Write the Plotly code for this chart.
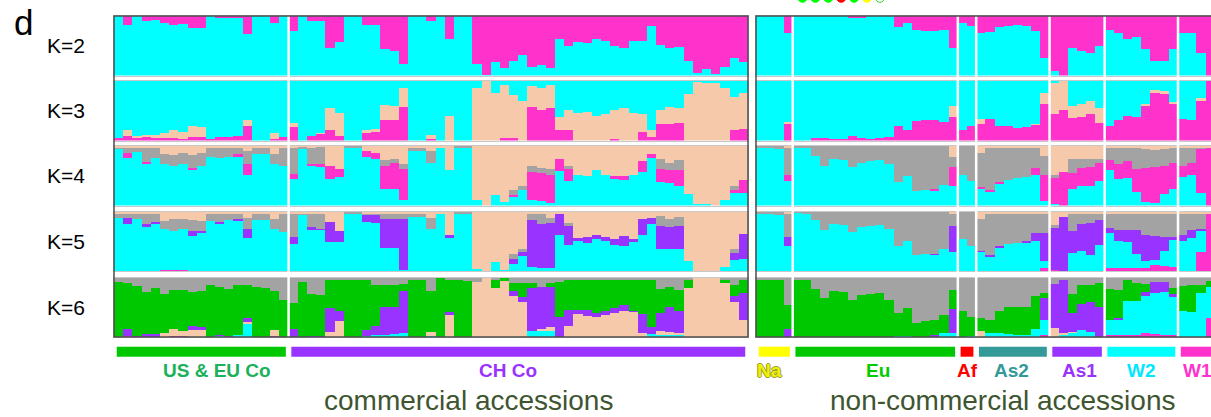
import plotly.graph_objects as go

W, H = 1211, 417
FONT = "Liberation Sans, Arial, sans-serif"

# ---------------------------------------------------------------- palette
COLORS = {
    "cyan": "#00FFFF",
    "magenta": "#FF33CC",
    "peach": "#F7C9AB",
    "gray": "#A3A3A3",
    "purple": "#9933FF",
    "green": "#00C800",
}

K_LABELS = ["K=2", "K=3", "K=4", "K=5", "K=6"]
# cluster order inside every tuple below, from the top of a bar to its bottom
K_ORDERS = [
    ["magenta", "cyan"],
    ["cyan", "peach", "magenta"],
    ["peach", "gray", "magenta", "cyan"],
    ["peach", "gray", "purple", "cyan", "magenta"],
    ["gray", "green", "purple", "peach", "cyan", "magenta"],
]

# ---------------------------------------------------------------- groups
COM_GROUPS = ["US & EU Co", "CH Co"]
COM_SIZES = [19, 50]
COM_BAR_COLORS = ["#00C800", "#9933FF"]
COM_TEXT_COLORS = ["#1BB15A", "#9933FF"]

NON_GROUPS = ["Na", "Eu", "Af", "As2", "As1", "W2", "W1"]
NON_SIZES = [4, 18, 2, 8, 6, 8, 4]
NON_BAR_COLORS = ["#FFFF00", "#00C800", "#FF0000", "#339999", "#9933FF", "#00FFFF", "#FF33CC"]
NON_TEXT_COLORS = ["#F2F200", "#00CC00", "#FF0000", "#339999", "#9933FF", "#00E8FF", "#FF33CC"]

PANEL_TITLES = ["commercial accessions", "non-commercial accessions"]

# ---------------------------------------------------------------- ancestry proportions (%)
K2_COM = [
    (0, 100), (15, 85), (0, 100), (8, 92), (7, 93), (12, 88), (15, 85), (13, 87), (21, 79), (21, 79),
    (0, 100), (4, 96), (3, 97), (2, 98), (31, 69), (0, 100), (0, 100), (12, 88), (0, 100),
    (25, 75), (0, 100), (8, 92), (8, 92), (54, 46), (44, 56), (0, 100), (0, 100), (15, 85), (15, 85),
    (56, 44), (58, 42), (81, 19), (0, 100), (0, 100), (8, 92), (0, 100), (39, 61), (0, 100), (0, 100),
    (80, 20), (99, 1), (77, 23), (88, 12), (75, 25), (65, 35), (86, 14), (83, 17), (88, 12), (38, 62),
    (50, 50), (44, 56), (46, 54), (38, 62), (42, 58), (50, 50), (54, 46), (42, 58), (42, 58), (17, 83),
    (48, 52), (54, 46), (52, 48), (75, 25), (96, 4), (89, 11), (98, 2), (86, 14), (71, 29), (77, 23),
]
K2_NON = [
    (0, 100), (0, 100), (0, 100), (28, 72),
    (0, 100), (0, 100), (0, 100), (0, 100), (0, 100), (0, 100), (2, 98), (2, 98), (0, 100), (0, 100),
    (0, 100), (18, 82), (11, 89), (23, 77), (25, 75), (25, 75), (23, 77), (53, 47),
    (12, 88), (17, 83),
    (29, 71), (27, 73), (18, 82), (16, 84), (15, 85), (16, 84), (25, 75), (71, 29),
    (93, 7), (100, 0), (53, 47), (58, 42), (62, 38), (51, 49),
    (24, 76), (29, 71), (38, 62), (36, 64), (56, 44), (75, 25), (75, 25), (56, 44),
    (29, 71), (29, 71), (63, 37), (100, 0),
]

K3_COM = [
    (96, 0, 4), (83, 9, 8), (92, 4, 4), (90, 3, 7), (90, 5, 5), (87, 8, 5), (83, 12, 5), (86, 11, 3),
    (76, 18, 6), (77, 17, 6), (97, 0, 3), (94, 0, 6), (94, 0, 6), (93, 0, 7), (66, 9, 25), (100, 0, 0),
    (100, 0, 0), (87, 10, 3), (94, 0, 6),
    (71, 7, 22), (100, 0, 0), (92, 0, 8), (87, 2, 11), (45, 38, 17), (54, 38, 8), (100, 0, 0), (100, 0, 0),
    (83, 3, 14), (81, 4, 15),
    (41, 25, 34), (42, 24, 34), (12, 32, 56), (100, 0, 0), (100, 0, 0), (90, 7, 3), (100, 0, 0), (58, 42, 0),
    (100, 0, 0), (100, 0, 0),
    (11, 89, 0), (0, 100, 0), (21, 79, 0), (7, 89, 4), (24, 72, 4), (33, 67, 0), (8, 35, 57), (11, 38, 51),
    (7, 39, 54), (60, 22, 18),
    (48, 34, 18), (54, 46, 0), (52, 48, 0), (59, 41, 0), (55, 45, 0), (48, 49, 3), (45, 55, 0), (54, 46, 0),
    (55, 31, 14), (82, 12, 6),
    (49, 23, 28), (44, 29, 27), (45, 25, 30), (22, 78, 0), (1, 99, 0), (4, 96, 0), (2, 98, 0), (11, 89, 0),
    (27, 55, 18), (21, 59, 20),
]
K3_NON = [
    (100, 0, 0), (100, 0, 0), (100, 0, 0), (69, 3, 28),
    (100, 0, 0), (100, 0, 0), (95, 0, 5), (96, 0, 4), (97, 0, 3), (98, 0, 2), (92, 0, 8), (95, 0, 5),
    (97, 0, 3), (95, 0, 5), (94, 0, 6), (75, 0, 25), (82, 0, 18), (68, 0, 32), (66, 0, 34), (66, 0, 34),
    (69, 0, 31), (42, 18, 40),
    (82, 0, 18), (75, 0, 25),
    (64, 9, 27), (64, 0, 36), (75, 0, 25), (76, 0, 24), (79, 0, 21), (77, 0, 23), (72, 1, 27), (21, 17, 62),
    (2, 53, 45), (0, 49, 51), (42, 21, 37), (39, 21, 40), (33, 23, 44), (46, 24, 30),
    (75, 0, 25), (66, 0, 34), (58, 0, 42), (60, 0, 40), (38, 3, 59), (15, 6, 79), (16, 6, 78), (35, 3, 62),
    (64, 0, 36), (66, 0, 34), (29, 4, 67), (0, 0, 100),
]

K4_COM = [
    (2, 2, 0, 96), (2, 10, 8, 80), (4, 6, 0, 90), (3, 24, 3, 70), (4, 17, 0, 79), (13, 18, 0, 69),
    (15, 18, 0, 67), (12, 18, 0, 70), (15, 22, 4, 59), (12, 21, 0, 67), (2, 16, 0, 82), (2, 19, 0, 79),
    (2, 16, 0, 82), (2, 12, 3, 83), (9, 22, 17, 52), (2, 11, 0, 87), (2, 11, 0, 87), (13, 18, 0, 69),
    (2, 32, 0, 66),
    (2, 45, 9, 44), (1, 3, 0, 96), (2, 28, 2, 68), (1, 30, 3, 66), (33, 0, 22, 45), (39, 0, 13, 48),
    (0, 2, 0, 98), (0, 2, 0, 98), (9, 0, 10, 81), (11, 0, 11, 78),
    (24, 9, 39, 28), (21, 8, 43, 28), (30, 9, 51, 10), (2, 6, 0, 92), (2, 6, 0, 92), (8, 20, 0, 72),
    (2, 0, 0, 98), (41, 0, 0, 59), (0, 3, 0, 97), (0, 4, 0, 96),
    (91, 0, 0, 9), (100, 0, 0, 0), (82, 0, 0, 18), (94, 0, 0, 6), (74, 9, 2, 15), (67, 7, 0, 26),
    (33, 10, 48, 9), (37, 9, 46, 8), (39, 9, 48, 4), (21, 0, 21, 58),
    (33, 6, 19, 42), (48, 0, 0, 52), (50, 0, 0, 50), (41, 0, 0, 59), (48, 0, 0, 52), (51, 0, 3, 46),
    (50, 0, 7, 43), (48, 0, 0, 52), (26, 0, 18, 56), (14, 0, 7, 79),
    (22, 17, 22, 39), (29, 11, 23, 37), (24, 17, 26, 33), (81, 0, 0, 19), (98, 0, 0, 2), (97, 0, 0, 3),
    (100, 0, 0, 0), (91, 0, 0, 9), (67, 7, 5, 21), (57, 0, 22, 21),
]
K4_NON = [
    (0, 2, 0, 98), (0, 2, 0, 98), (0, 5, 0, 95), (4, 44, 11, 41),
    (0, 2, 0, 98), (0, 2, 0, 98), (0, 16, 0, 84), (0, 33, 0, 67), (0, 22, 0, 78), (0, 23, 0, 77),
    (0, 36, 0, 64), (0, 28, 0, 72), (0, 26, 0, 74), (0, 23, 0, 77), (0, 31, 0, 69), (0, 60, 0, 40),
    (0, 51, 0, 49), (0, 76, 0, 24), (0, 74, 0, 26), (0, 73, 1, 26), (0, 66, 0, 34), (18, 18, 32, 32),
    (0, 49, 0, 51), (0, 59, 0, 41),
    (12, 57, 3, 28), (2, 72, 2, 24), (2, 59, 2, 37), (2, 55, 0, 43), (2, 51, 0, 47), (2, 50, 0, 48),
    (4, 33, 11, 52), (17, 32, 43, 8),
    (48, 6, 44, 2), (43, 0, 57, 0), (22, 23, 27, 28), (22, 15, 30, 33), (22, 13, 32, 33), (22, 7, 29, 42),
    (2, 22, 17, 59), (2, 29, 24, 45), (2, 24, 28, 46), (2, 36, 39, 23), (5, 32, 57, 6), (7, 28, 60, 5),
    (5, 28, 47, 20), (2, 26, 45, 27),
    (2, 31, 19, 48), (2, 26, 21, 51), (2, 2, 75, 21), (4, 0, 96, 0),
]

K5_COM = [
    (3, 7, 0, 90, 0), (2, 8, 11, 79, 0), (3, 8, 0, 89, 0), (2, 18, 6, 74, 0), (3, 14, 4, 79, 0),
    (15, 14, 0, 68, 3), (12, 20, 0, 65, 3), (11, 18, 0, 68, 3), (14, 18, 8, 60, 0), (15, 17, 3, 65, 0),
    (2, 13, 0, 85, 0), (2, 15, 2, 81, 0), (2, 12, 0, 86, 0), (2, 10, 2, 86, 0), (10, 18, 16, 56, 0),
    (2, 12, 0, 86, 0), (2, 11, 0, 87, 0), (12, 17, 0, 71, 0), (2, 31, 0, 67, 0),
    (2, 40, 11, 47, 0), (2, 2, 0, 96, 0), (2, 24, 3, 71, 0), (2, 26, 2, 70, 0), (16, 0, 35, 49, 0),
    (32, 0, 18, 50, 0), (0, 2, 0, 98, 0), (0, 2, 0, 98, 0), (2, 2, 13, 83, 0), (2, 2, 15, 81, 0),
    (3, 8, 50, 39, 0), (3, 8, 50, 39, 0), (2, 10, 86, 2, 0), (2, 6, 0, 92, 0), (2, 6, 0, 92, 0),
    (10, 18, 0, 72, 0), (2, 0, 0, 98, 0), (38, 0, 6, 56, 0), (0, 3, 0, 97, 0), (0, 4, 0, 96, 0),
    (95, 0, 0, 5, 0), (100, 0, 0, 0, 0), (84, 0, 0, 16, 0), (97, 0, 0, 3, 0), (71, 8, 9, 12, 0),
    (63, 4, 7, 26, 0), (3, 10, 79, 8, 0), (3, 17, 74, 6, 0), (10, 9, 75, 6, 0), (2, 0, 36, 62, 0),
    (18, 6, 31, 45, 0), (43, 0, 6, 51, 0), (42, 0, 10, 48, 0), (38, 0, 7, 55, 0), (42, 0, 7, 51, 0),
    (45, 0, 10, 45, 0), (41, 0, 16, 43, 0), (46, 0, 3, 51, 0), (12, 0, 27, 61, 0), (10, 0, 11, 79, 0),
    (7, 17, 38, 38, 0), (11, 14, 37, 38, 0), (8, 16, 38, 38, 0), (83, 0, 0, 17, 0), (100, 0, 0, 0, 0),
    (100, 0, 0, 0, 0), (100, 0, 0, 0, 0), (93, 0, 0, 7, 0), (63, 6, 11, 20, 0), (37, 0, 42, 21, 0),
]
K5_NON = [
    (0, 2, 0, 98, 0), (0, 2, 0, 98, 0), (0, 5, 0, 95, 0), (2, 40, 15, 43, 0),
    (0, 1, 0, 99, 0), (0, 2, 0, 98, 0), (0, 13, 0, 87, 0), (0, 30, 0, 70, 0), (0, 21, 0, 79, 0),
    (0, 22, 0, 78, 0), (0, 33, 0, 67, 0), (0, 26, 0, 74, 0), (0, 24, 0, 76, 0), (0, 22, 0, 78, 0),
    (0, 29, 0, 71, 0), (0, 57, 0, 43, 0), (0, 48, 0, 52, 0), (0, 73, 0, 27, 0), (0, 71, 0, 29, 0),
    (0, 70, 1, 29, 0), (0, 63, 0, 37, 0), (2, 21, 44, 33, 0),
    (0, 46, 0, 54, 0), (0, 57, 0, 43, 0),
    (11, 54, 2, 33, 0), (2, 70, 3, 25, 0), (2, 55, 2, 41, 0), (2, 52, 0, 46, 0), (2, 50, 0, 48, 0),
    (2, 47, 3, 48, 0), (2, 34, 12, 52, 0), (2, 33, 47, 12, 6),
    (22, 5, 70, 0, 3), (9, 0, 91, 0, 0), (4, 28, 37, 31, 0), (3, 17, 46, 34, 0), (3, 16, 54, 27, 0),
    (3, 10, 43, 44, 0),
    (2, 25, 9, 58, 6), (2, 29, 17, 46, 6), (2, 28, 21, 43, 6), (2, 28, 41, 23, 6), (2, 36, 44, 12, 6),
    (2, 38, 41, 8, 11), (2, 40, 24, 24, 10), (2, 40, 5, 45, 8),
    (2, 36, 11, 51, 0), (2, 28, 14, 56, 0), (2, 26, 4, 35, 33), (2, 0, 0, 0, 98),
]

K6_COM = [
    (6, 94, 0, 0, 0, 0), (8, 78, 11, 0, 0, 3), (14, 84, 2, 0, 0, 0), (24, 70, 6, 0, 0, 0),
    (16, 78, 6, 0, 0, 0), (27, 66, 0, 6, 0, 1), (21, 65, 0, 11, 0, 3), (21, 68, 0, 9, 0, 2),
    (24, 56, 8, 12, 0, 0), (22, 60, 6, 12, 0, 0), (11, 88, 1, 0, 0, 0), (15, 80, 2, 0, 3, 0),
    (18, 80, 2, 0, 0, 0), (12, 84, 0, 0, 4, 0), (12, 55, 7, 2, 24, 0), (15, 84, 1, 0, 0, 0),
    (16, 84, 0, 0, 0, 0), (22, 66, 0, 10, 0, 2), (37, 63, 0, 0, 0, 0),
    (42, 44, 13, 0, 0, 1), (7, 93, 0, 0, 0, 0), (27, 71, 2, 0, 0, 0), (29, 69, 2, 0, 0, 0),
    (2, 49, 40, 9, 0, 0), (2, 53, 17, 28, 0, 0), (2, 98, 0, 0, 0, 0), (4, 96, 0, 0, 0, 0),
    (4, 83, 11, 0, 2, 0), (11, 69, 15, 0, 5, 0),
    (11, 38, 47, 0, 4, 0), (11, 38, 45, 0, 6, 0), (10, 12, 70, 0, 8, 0), (4, 96, 0, 0, 0, 0),
    (2, 98, 0, 0, 0, 0), (21, 70, 0, 7, 2, 0), (0, 100, 0, 0, 0, 0), (2, 55, 6, 37, 0, 0),
    (2, 98, 0, 0, 0, 0), (5, 95, 0, 0, 0, 0),
    (7, 0, 0, 93, 0, 0), (0, 0, 0, 100, 0, 0), (2, 14, 0, 84, 0, 0), (0, 5, 0, 95, 0, 0),
    (8, 14, 9, 69, 0, 0), (8, 24, 8, 60, 0, 0), (8, 8, 73, 0, 11, 0), (15, 0, 71, 3, 11, 0),
    (8, 7, 67, 7, 11, 0), (7, 58, 35, 0, 0, 0),
    (2, 51, 28, 19, 0, 0), (2, 51, 8, 39, 0, 0), (2, 51, 11, 36, 0, 0), (2, 57, 7, 34, 0, 0),
    (2, 54, 6, 38, 0, 0), (2, 49, 8, 41, 0, 0), (2, 43, 11, 44, 0, 0), (2, 53, 2, 43, 0, 0),
    (2, 58, 32, 8, 0, 0), (2, 81, 11, 0, 6, 0),
    (18, 40, 31, 7, 4, 0), (15, 34, 41, 6, 4, 0), (20, 36, 37, 2, 5, 0), (2, 15, 0, 83, 0, 0),
    (0, 0, 0, 100, 0, 0), (0, 0, 0, 100, 0, 0), (0, 0, 0, 100, 0, 0), (2, 6, 0, 92, 0, 0),
    (11, 19, 11, 59, 0, 0), (3, 22, 45, 30, 0, 0),
]
K6_NON = [
    (2, 98, 0, 0, 0, 0), (2, 98, 0, 0, 0, 0), (4, 96, 0, 0, 0, 0), (45, 40, 15, 0, 0, 0),
    (2, 98, 0, 0, 0, 0), (4, 96, 0, 0, 0, 0), (18, 82, 0, 0, 0, 0), (33, 67, 0, 0, 0, 0),
    (22, 78, 0, 0, 0, 0), (24, 76, 0, 0, 0, 0), (37, 63, 0, 0, 0, 0), (28, 72, 0, 0, 0, 0),
    (27, 73, 0, 0, 0, 0), (25, 75, 0, 0, 0, 0), (37, 63, 0, 0, 0, 0), (59, 39, 0, 0, 2, 0),
    (50, 48, 0, 0, 2, 0), (76, 24, 0, 0, 0, 0), (73, 27, 0, 0, 0, 0), (71, 25, 2, 0, 2, 0),
    (63, 30, 0, 0, 7, 0), (20, 32, 40, 0, 8, 0),
    (55, 45, 0, 0, 0, 0), (66, 32, 0, 0, 2, 0),
    (67, 22, 0, 10, 1, 0), (71, 21, 0, 0, 8, 0), (56, 37, 0, 0, 7, 0), (49, 45, 0, 0, 6, 0),
    (49, 46, 0, 0, 5, 0), (48, 47, 0, 0, 5, 0), (31, 55, 0, 0, 14, 0), (25, 8, 38, 0, 25, 4),
    (10, 0, 74, 16, 0, 0), (2, 0, 90, 3, 5, 0), (27, 31, 32, 2, 8, 0), (11, 33, 44, 0, 12, 0),
    (11, 30, 49, 0, 10, 0), (8, 41, 51, 0, 0, 0),
    (18, 53, 0, 0, 25, 4), (21, 46, 3, 0, 26, 4), (2, 37, 0, 0, 57, 4), (8, 31, 0, 0, 57, 4),
    (10, 14, 7, 0, 62, 7), (7, 0, 19, 0, 68, 6), (7, 0, 17, 0, 72, 4), (16, 11, 5, 0, 64, 4),
    (14, 41, 0, 0, 45, 0), (12, 45, 0, 0, 43, 0), (12, 13, 0, 0, 75, 0), (5, 10, 0, 0, 52, 33),
]

COM_DATA = [K2_COM, K3_COM, K4_COM, K5_COM, K6_COM]
NON_DATA = [K2_NON, K3_NON, K4_NON, K5_NON, K6_NON]

# small coloured dots above the non-commercial panel
DOT_COLORS = ["#00FF00", "#00FF00", "#00FF00", "#FF0000", "#00FF00", "#FFFF00", "#FFFFFF"]
DOT_LINES = ["#00FF00", "#00FF00", "#00FF00", "#FF0000", "#00FF00", "#FFFF00", "#33CC33"]

for rows, sizes in ((COM_DATA, COM_SIZES), (NON_DATA, NON_SIZES)):
    for k, row in enumerate(rows):
        assert len(row) == sum(sizes), (k, len(row))
        assert all(len(t) == len(K_ORDERS[k]) for t in row), k

# ---------------------------------------------------------------- geometry (pixels)
ROW_TOPS = [16, 81, 146, 211.5, 277.5]
ROW_H = 59.5
FRAME_TOP, FRAME_BOTTOM = 16, 337
COM_LEFT, COM_RIGHT = 114, 748
NON_LEFT = 756
NON_BAR_PX = 9.174
NON_VISIBLE = (W - NON_LEFT) / NON_BAR_PX

# horizontal centres of the group names, in bar-index units of each panel
COM_LABEL_X = [10.7, 42.4]
NON_LABEL_X = [1.0, 12.8, 22.5, 27.3, 34.8, 41.5, 47.6]


def fx(p):
    return p / W


def fy(p):
    return 1 - p / H


fig = go.Figure()
layout = dict(
    width=W, height=H, margin=dict(l=0, r=0, t=0, b=0),
    paper_bgcolor="white", plot_bgcolor="white",
    barmode="stack", bargap=0, showlegend=False,
)

panels = [
    (COM_DATA, COM_SIZES, (fx(COM_LEFT), fx(COM_RIGHT)), [-0.5, sum(COM_SIZES) - 0.5]),
    (NON_DATA, NON_SIZES, (fx(NON_LEFT), 1.0), [-0.5, NON_VISIBLE - 0.5]),
]


def axis_names(r, p):
    n = r * 2 + p + 1
    s = "" if n == 1 else str(n)
    return "x" + s, "y" + s, "xaxis" + s, "yaxis" + s


for r in range(5):
    top = ROW_TOPS[r]
    ydom = [fy(top + ROW_H), fy(top)]
    order = K_ORDERS[r]
    for p, (data, sizes, xdom, xrange_) in enumerate(panels):
        xn, yn, xk, yk = axis_names(r, p)
        rows = data[r]
        n = len(rows)
        # Plotly stacks the first trace at the bottom, so walk clusters bottom-up
        for ci in reversed(range(len(order))):
            vals = [t[ci] / sum(t) for t in rows]
            fig.add_trace(go.Bar(
                x=list(range(n)), y=vals, width=1,
                marker=dict(color=COLORS[order[ci]], line=dict(width=0)),
                xaxis=xn, yaxis=yn, hoverinfo="skip", showlegend=False,
            ))
        common = dict(showticklabels=False, showgrid=False, zeroline=False, ticks="",
                      showline=True, mirror=True, linecolor="#C8C8C8", linewidth=1,
                      fixedrange=True)
        layout[xk] = dict(domain=list(xdom), range=xrange_, anchor=yn, **common)
        layout[yk] = dict(domain=ydom, range=[0, 1], anchor=xn, **common)

shapes = []
annotations = []

# white separators between accession groups, then the dark outer frames
for p, (data, sizes, xdom, xrange_) in enumerate(panels):
    xn = axis_names(0, p)[0]
    edge = -0.5
    for s in sizes[:-1]:
        edge += s
        shapes.append(dict(type="line", xref=xn, yref="paper", x0=edge, x1=edge,
                           y0=fy(FRAME_BOTTOM), y1=fy(FRAME_TOP),
                           line=dict(color="white", width=2.5), layer="above"))
for p, x1 in ((0, 1.0), (1, 1.05)):
    xn = axis_names(0, p)[0]
    shapes.append(dict(type="rect", xref=xn + " domain", yref="paper", x0=0, x1=x1,
                       y0=fy(FRAME_BOTTOM), y1=fy(FRAME_TOP),
                       line=dict(color="#4D4D4D", width=1.5), layer="above"))

# group bars and group names below the K=6 row
BAR_Y0, BAR_Y1, LABEL_Y = 356.7, 346.7, 370
for p, (groups, sizes, bar_cols, txt_cols, label_x) in enumerate([
        (COM_GROUPS, COM_SIZES, COM_BAR_COLORS, COM_TEXT_COLORS, COM_LABEL_X),
        (NON_GROUPS, NON_SIZES, NON_BAR_COLORS, NON_TEXT_COLORS, NON_LABEL_X)]):
    xn = axis_names(4, p)[0]
    start = 0
    for g, s, bc, tc, lx in zip(groups, sizes, bar_cols, txt_cols, label_x):
        x0, x1 = start - 0.5 + 0.3, start + s - 0.5 - 0.3
        shapes.append(dict(type="rect", xref=xn, yref="paper", x0=x0, x1=x1,
                           y0=fy(BAR_Y0), y1=fy(BAR_Y1), fillcolor=bc,
                           line=dict(width=0), layer="above"))
        font = dict(family=FONT, size=19, color=tc)
        if g == "Na":
            font["shadow"] = ("-1px 0 0 #9C9C3A, 1px 0 0 #9C9C3A, "
                              "0 -1px 0 #9C9C3A, 0 1px 0 #9C9C3A")
        annotations.append(dict(text="<b>%s</b>" % g, xref=xn, yref="paper",
                                x=lx, y=fy(LABEL_Y), showarrow=False,
                                xanchor="center", yanchor="middle", font=font))
        start += s

# panel titles, sitting on the bottom edge of the page
for title, cx in zip(PANEL_TITLES, (469, 1002.5)):
    annotations.append(dict(text=title, xref="paper", yref="paper", x=fx(cx), y=0,
                            showarrow=False, xanchor="center", yanchor="bottom",
                            borderpad=0,
                            font=dict(family=FONT, size=28, color="#3E5530")))

# row labels
for r, lab in enumerate(K_LABELS):
    annotations.append(dict(text=lab, xref="paper", yref="paper", x=fx(65.5),
                            y=fy(ROW_TOPS[r] + ROW_H / 2), showarrow=False,
                            xanchor="center", yanchor="middle",
                            font=dict(family=FONT, size=21, color="black")))

# panel letter
annotations.append(dict(text="d", xref="paper", yref="paper", x=fx(23), y=fy(23),
                        showarrow=False, xanchor="center", yanchor="middle",
                        font=dict(family=FONT, size=35, color="black")))

# dots along the top edge
for i, (fc, lc) in enumerate(zip(DOT_COLORS, DOT_LINES)):
    cx = 802.5 + i * 12.9
    shapes.append(dict(type="circle", xref="paper", yref="paper",
                       x0=fx(cx - 4.6), x1=fx(cx + 4.6), y0=fy(2.3), y1=fy(-6.9),
                       fillcolor=fc, line=dict(color=lc, width=1), layer="above"))

layout["shapes"] = shapes
layout["annotations"] = annotations
fig.update_layout(**layout)
fig.write_html("out.html")
